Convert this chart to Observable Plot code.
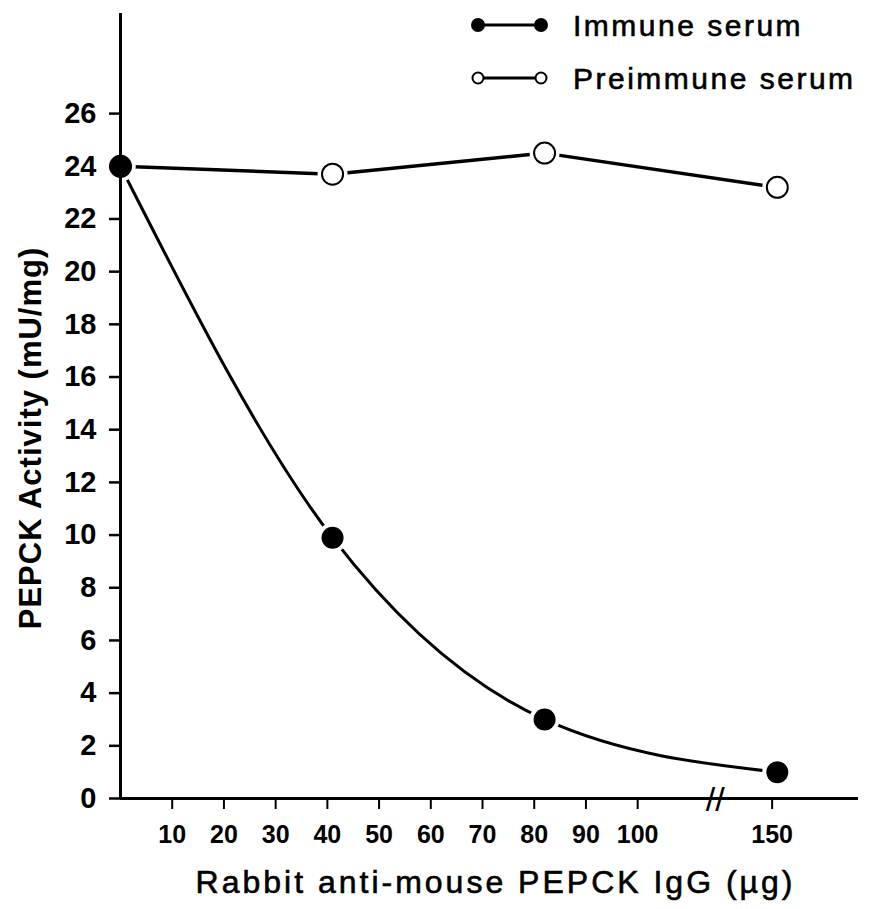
<!DOCTYPE html>
<html>
<head>
<meta charset="utf-8">
<script src="https://cdn.jsdelivr.net/npm/d3@7"></script>
<script src="https://cdn.jsdelivr.net/npm/@observablehq/plot@0.6"></script>
<style>
  html, body { margin: 0; padding: 0; background: #fff; }
  #wrap { position: relative; width: 869px; height: 909px; }
  #legend { position: absolute; left: 0; top: 0; pointer-events: none; }
  svg text { font-family: "Liberation Sans", Arial, Helvetica, sans-serif; }
</style>
</head>
<body>
<div id="wrap"></div>
<script>
// ---- data ----
const doses = [0, 41, 82, 151];               // Rabbit anti-mouse PEPCK IgG (µg)
const immune = [24.0, 9.9, 3.0, 1.0];         // PEPCK activity, immune serum (mU/mg)
const preimmune = [24.0, 23.7, 24.5, 23.2];   // PEPCK activity, preimmune serum (mU/mg)
const xTickValues = [10, 20, 30, 40, 50, 60, 70, 80, 90, 100, 150];
const yTickValues = [0, 2, 4, 6, 8, 10, 12, 14, 16, 18, 20, 22, 24, 26];
const seriesNames = ["Immune serum", "Preimmune serum"];
const xLabel = "Rabbit anti-mouse PEPCK IgG (µg)";
const yLabel = "PEPCK Activity (mU/mg)";
// broken x axis: values above 100 are drawn compressed after the break
const breakStart = 100, breakShownAt = 126, breakRef = 150, breakMark = 115;
const xMax = 142.7, yMax = 29.8;

const xPos = v => v <= breakStart ? v : breakShownAt + (v - breakRef);
const xFmt = d => d > breakStart ? String(Math.round(d - breakShownAt + breakRef)) : String(d);

const immData = doses.map((d, i) => ({x: xPos(d), y: immune[i], s: seriesNames[0]}));
const preData = doses.map((d, i) => ({x: xPos(d), y: preimmune[i], s: seriesNames[1]}));
const allData = preData.concat(immData);

const chart = Plot.plot({
  width: 869,
  height: 909,
  marginLeft: 120,
  marginRight: 11,
  marginTop: 13,
  marginBottom: 111,
  x: {domain: [0, xMax], axis: null},
  y: {domain: [0, yMax], axis: null},
  style: {background: "#fff", color: "#000", fontFamily: "Liberation Sans, Arial, sans-serif"},
  marks: [
    Plot.line(preData, {x: "x", y: "y", stroke: "#000", strokeWidth: 3.5}),
    Plot.line(immData, {x: "x", y: "y", stroke: "#000", strokeWidth: 3, curve: "monotone-x"}),
    Plot.dot(allData, {x: "x", y: "y", r: 15, fill: "#fff", stroke: "none"}),
    Plot.ruleX([0], {y1: 0, y2: yMax, stroke: "#000", strokeWidth: 3}),
    Plot.ruleY([0], {x1: 0, x2: xMax, stroke: "#000", strokeWidth: 3}),
    Plot.axisY({ticks: yTickValues, tickSize: 11, tickPadding: 13, fontSize: 29, fontWeight: "bold", strokeWidth: 2.5, label: null, tickFormat: d => String(d)}),
    Plot.axisX({ticks: xTickValues.map(xPos), tickFormat: xFmt, tickSize: 11, tickPadding: 16, fontSize: 25, fontWeight: "bold", strokeWidth: 2, label: null}),
    Plot.text(["//"], {x: breakMark, y: 0, text: d => d, fontSize: 34, dy: 2, fill: "#000"}),
    Plot.dot(preData, {x: "x", y: "y", r: 10.5, fill: "#fff", stroke: "#000", strokeWidth: 2}),
    Plot.dot(immData, {x: "x", y: "y", r: 11, fill: "#000", stroke: "none"}),
    Plot.text([xLabel], {frameAnchor: "bottom", text: d => d, dy: 84, dx: 6, fontSize: 32, textAnchor: "middle", lineAnchor: "middle", fill: "#000"}),
    Plot.text([yLabel], {frameAnchor: "left", text: d => d, dx: -89, dy: 32, rotate: -90, fontSize: 31, fontWeight: "bold", textAnchor: "middle", lineAnchor: "middle", fill: "#000"})
  ]
});

d3.select(chart).selectAll("text")
  .filter(function() { return this.textContent === xLabel; })
  .attr("letter-spacing", "3px").attr("stroke", "#000").attr("stroke-width", 0.6);
d3.select(chart).selectAll("text")
  .filter(function() { return this.textContent === yLabel; })
  .attr("letter-spacing", "1px");

const wrap = document.getElementById("wrap");
wrap.appendChild(chart);

// ---- legend (top right) ----
const lg = d3.select(wrap).append("svg")
  .attr("id", "legend").attr("width", 869).attr("height", 110);
const rows = [
  {name: seriesNames[0], y: 25, filled: true},
  {name: seriesNames[1], y: 78, filled: false}
];
rows.forEach(r => {
  lg.append("line").attr("x1", 478).attr("x2", 541).attr("y1", r.y).attr("y2", r.y)
    .attr("stroke", "#000").attr("stroke-width", 3);
  [478, 541].forEach(cx => {
    lg.append("circle").attr("cx", cx).attr("cy", r.y).attr("r", r.filled ? 7 : 5.5)
      .attr("fill", r.filled ? "#000" : "#fff").attr("stroke", "#000").attr("stroke-width", r.filled ? 0 : 2);
  });
  lg.append("text").attr("x", 573).attr("y", r.y).attr("dy", "0.35em")
    .attr("font-size", 30).attr("letter-spacing", "2.5px")
    .attr("stroke", "#000").attr("stroke-width", 0.6)
    .attr("fill", "#000").text(r.name);
});
</script>
</body>
</html>
